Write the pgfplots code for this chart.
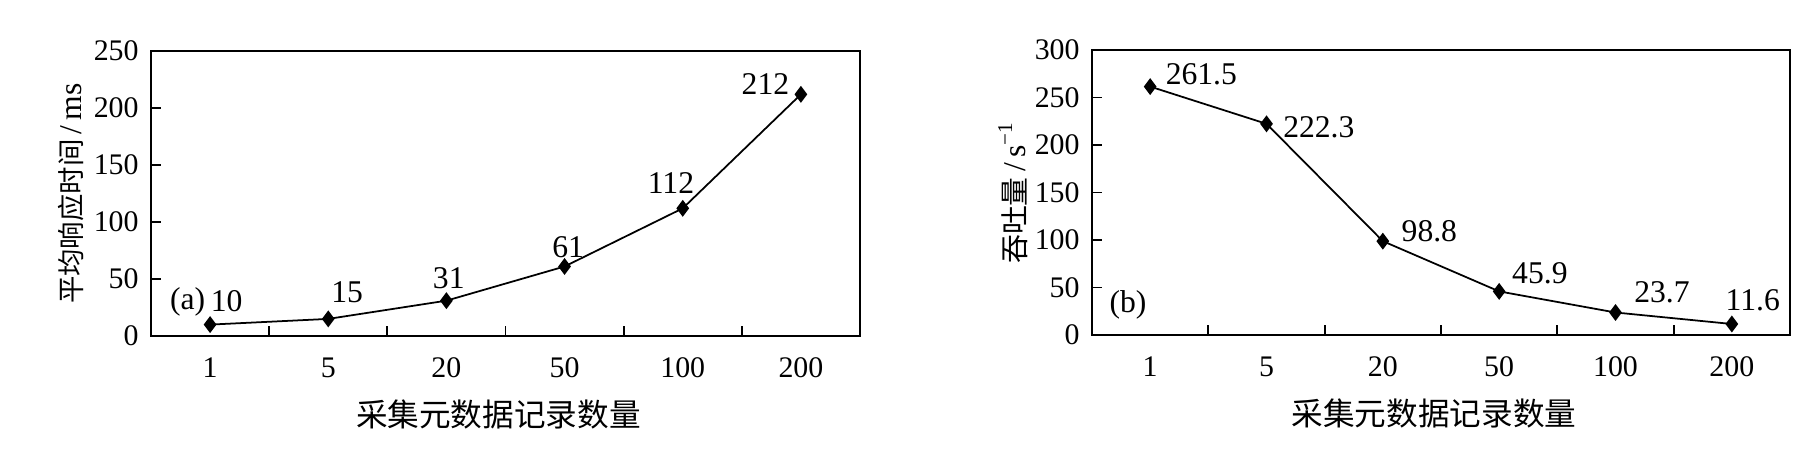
\documentclass[border=0pt]{standalone}
\usepackage{fontspec}
\setmainfont{Liberation Serif}
\newfontfamily\cjk{Noto Sans CJK SC}
\usepackage{pgfplots}
\pgfplotsset{compat=1.18}

\pgfplotsset{
  panel/.style={
    scale only axis,
    height=28.5mm,
    xmin=-0.5, xmax=5.5,
    xtick={0.5,1.5,2.5,3.5,4.5},
    xticklabels={},
    extra x ticks={0,1,2,3,4,5},
    extra x tick labels={1,5,20,50,100,200},
    extra x tick style={major tick length=0pt},
    tick align=inside,
    xtick pos=bottom, ytick pos=left,
    major tick length=1mm,
    axis line style={line width=0.6pt},
    tick style={line width=0.5pt, black},
    font=\fontsize{8.5}{10}\selectfont,
    /pgf/number format/assume math mode=true,
    xticklabel style={anchor=center, yshift=-3.2mm},
    xlabel style={at={(axis description cs:0.49,-0.277)}, anchor=center,
      font=\fontsize{9}{10}\selectfont\cjk},
    ylabel style={at={(axis description cs:-0.113,0.5)}, anchor=center,
      font=\fontsize{9}{10}\selectfont},
  },
  curve/.style={black, line width=0.5pt, mark=diamond*, mark size=2pt,
    mark options={solid, fill=black}},
}
\tikzset{lbl/.style={font=\fontsize{9}{10}\selectfont, inner sep=0pt}}

\begin{document}
\begin{tikzpicture}
\useasboundingbox (0,0) rectangle (181.6mm,46.4mm);

% (a) average response time
\begin{axis}[panel,
  at={(15.1mm,12.8mm)}, anchor=south west,
  width=70.9mm,
  ymin=0, ymax=250, ytick={0,50,...,250},
  xlabel={采集元数据记录数量},
  ylabel={{\fontsize{7.8}{9}\selectfont\cjk 平均响应时间}\,/\,ms},
]
\addplot[curve] coordinates {(0,10) (1,15) (2,31) (3,61) (4,112) (5,212)};
\node[lbl] at (axis cs:-0.19,30) {(a)};
\node[lbl] at (axis cs:0.14,31) {10};
\node[lbl] at (axis cs:1.16,38.7) {15};
\node[lbl] at (axis cs:2.02,50.3) {31};
\node[lbl] at (axis cs:3.03,77.7) {61};
\node[lbl] at (axis cs:3.90,134) {112};
\node[lbl] at (axis cs:4.70,220.8) {212};
\end{axis}

% (b) throughput
\begin{axis}[panel,
  at={(109.2mm,12.9mm)}, anchor=south west,
  width=69.8mm,
  ymin=0, ymax=300, ytick={0,50,...,300},
  xlabel={采集元数据记录数量},
  ylabel={{\fontsize{8.2}{9}\selectfont\cjk 吞吐量}\,/\,s\textsuperscript{−1}},
]
\addplot[curve] coordinates {(0,261.5) (1,222.3) (2,98.8) (3,45.9) (4,23.7) (5,11.6)};
\node[lbl] at (axis cs:-0.19,31.6) {(b)};
\node[lbl] at (axis cs:0.44,274) {261.5};
\node[lbl] at (axis cs:1.45,219) {222.3};
\node[lbl] at (axis cs:2.40,109.3) {98.8};
\node[lbl] at (axis cs:3.35,65) {45.9};
\node[lbl] at (axis cs:4.40,44.7) {23.7};
\node[lbl] at (axis cs:5.18,36.9) {11.6};
\end{axis}
\end{tikzpicture}
\end{document}
